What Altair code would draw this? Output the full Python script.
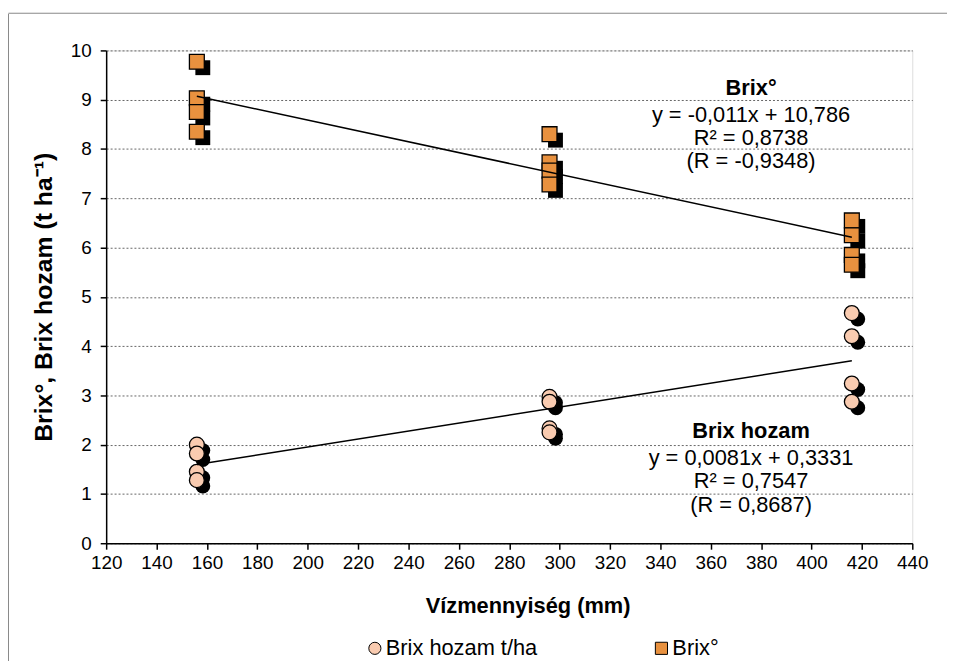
import altair as alt
import pandas as pd

# ---- data ----
water = [156, 156, 156, 156, 296, 296, 296, 296, 416, 416, 416, 416]
brix = [9.77, 9.03, 8.75, 8.35, 8.30, 7.73, 7.56, 7.28, 6.55, 6.25, 5.85, 5.65]
hozam = [2.00, 1.82, 1.45, 1.28, 2.97, 2.87, 2.33, 2.25, 4.67, 4.20, 3.24, 2.87]

series_names = ["Brix hozam t/ha", "Brix°"]
series_colors = ["#F9CBB0", "#E8913F"]
series_shapes = ["circle", "square"]

trend_slope = [0.0081, -0.011]
trend_intercept = [0.3331, 10.786]
trend_x = [156, 416]

ann_bold_text = ["Brix°", "Brix hozam"]
ann_bold_y = [9.24, 2.28]
ann_text = ["y = -0,011x + 10,786", "R² = 0,8738", "(R = -0,9348)",
            "y = 0,0081x + 0,3331", "R² = 0,7547", "(R = 0,8687)"]
ann_y = [8.69, 8.23, 7.75, 1.73, 1.27, 0.77]
ann_x = 376

FONT = "Liberation Sans"

# ---- tables ----
pts = pd.DataFrame({
    "x": water + water,
    "y": hozam + brix,
    "series": [series_names[0]] * len(hozam) + [series_names[1]] * len(brix),
})

trend_rows = []
for name, m, b in zip(series_names, trend_slope, trend_intercept):
    for xv in trend_x:
        trend_rows.append({"series": name, "x": xv, "m": m, "b": b})
trend = pd.DataFrame(trend_rows)

ann_b = pd.DataFrame({"text": ann_bold_text, "y": ann_bold_y, "x": [ann_x] * 2})
ann_n = pd.DataFrame({"text": ann_text, "y": ann_y, "x": [ann_x] * len(ann_text)})

xscale = alt.Scale(domain=[120, 440], nice=False, zero=False)
yscale = alt.Scale(domain=[0, 10], nice=False)

X = alt.X("x:Q", scale=xscale,
          axis=alt.Axis(title="Vízmennyiség (mm)", values=list(range(120, 441, 20)),
                        grid=False, tickSize=6, labelFontSize=19, labelPadding=5,
                        labelFlush=False, labelOverlap=False,
                        titleFontSize=22, titleFontWeight="bold", titlePadding=23,
                        titleX=425,
                        labelColor="black", titleColor="black", domainColor="black",
                        tickColor="black", domainWidth=1.5, tickWidth=1.5,
                        labelFont=FONT, titleFont=FONT))
Y = alt.Y("y:Q", scale=yscale,
          axis=alt.Axis(title="Brix°, Brix hozam (t ha⁻¹)", values=list(range(0, 11)),
                        grid=True, gridDash=[2, 2], gridColor="#666", gridWidth=1,
                        tickSize=6, labelFontSize=19, labelPadding=9,
                        titleFontSize=25, titleFontWeight="bold", titlePadding=14,
                        labelColor="black", titleColor="black", domainColor="black",
                        tickColor="black", domainWidth=1.5, tickWidth=1.5,
                        labelFont=FONT, titleFont=FONT))

base = alt.Chart(pts)

shadow_c = base.transform_filter(alt.datum.series == series_names[0]).mark_point(
    shape="circle", filled=True, color="black", size=225, opacity=1, xOffset=6, yOffset=6
).encode(x=X, y=Y)
shadow_s = base.transform_filter(alt.datum.series == series_names[1]).mark_point(
    shape="square", filled=True, color="black", size=225, opacity=1, xOffset=6, yOffset=6
).encode(x="x:Q", y="y:Q")

main = base.mark_point(filled=True, stroke="black", strokeWidth=1.3, size=225, opacity=1).encode(
    x="x:Q", y="y:Q",
    color=alt.Color("series:N", scale=alt.Scale(domain=series_names, range=series_colors),
                    legend=alt.Legend(title=None, orient="none", direction="horizontal",
                                      legendX=260, legendY=592, columnPadding=114,
                                      symbolSize=150, symbolStrokeColor="black",
                                      symbolStrokeWidth=1, labelFontSize=22, labelOffset=0,
                                      labelFont=FONT, labelColor="black", labelLimit=400)),
    shape=alt.Shape("series:N", scale=alt.Scale(domain=series_names, range=series_shapes)),
)

lines = alt.Chart(trend).transform_calculate(yy="datum.m * datum.x + datum.b").mark_line(
    color="black", strokeWidth=1.5
).encode(x="x:Q", y=alt.Y("yy:Q"), detail="series:N")

t_bold = alt.Chart(ann_b).mark_text(font=FONT, fontSize=22, fontWeight="bold", color="black").encode(
    x="x:Q", y="y:Q", text="text:N")
t_norm = alt.Chart(ann_n).mark_text(font=FONT, fontSize=22, color="black").encode(
    x="x:Q", y="y:Q", text="text:N")

# decorative outer chart-area frame (left and top edge)
frame_l = alt.Chart(pd.DataFrame({"a": [0]})).mark_rule(color="#888", strokeWidth=1, clip=False).encode(
    x=alt.value(-98.5), y=alt.value(-37), y2=alt.value(620))
frame_t = alt.Chart(pd.DataFrame({"a": [0]})).mark_rule(color="#888", strokeWidth=1, clip=False).encode(
    x=alt.value(-98.5), x2=alt.value(900), y=alt.value(-37.5))

chart = alt.layer(frame_l, frame_t, shadow_c, shadow_s, main, lines, t_bold, t_norm).properties(
    width=813, height=497,
    autosize=alt.AutoSizeParams(type="none"),
    padding={"left": 99, "top": 40, "right": 35, "bottom": 116},
).configure_view(stroke="black", strokeWidth=1.5).configure(background="white")

chart.save("out.html", embed_options={"renderer": "svg", "actions": False})
